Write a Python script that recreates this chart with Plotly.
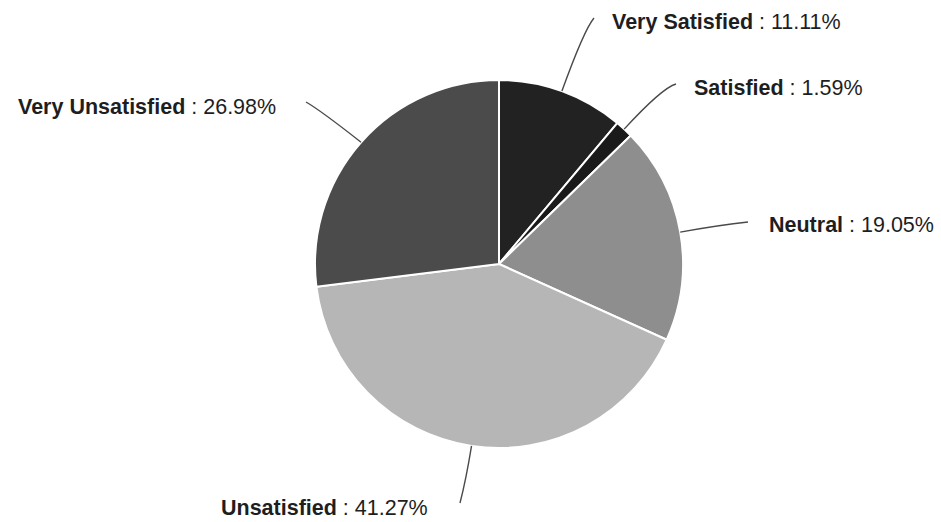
import math
import plotly.graph_objects as go

# Survey satisfaction breakdown
categories = ["Very Satisfied", "Satisfied", "Neutral", "Unsatisfied", "Very Unsatisfied"]
shares = [11.11, 1.59, 19.05, 41.27, 26.98]
colors = ["#222222", "#1a1a1a", "#8e8e8e", "#b6b6b6", "#4b4b4b"]

# Canvas and pie geometry (pixels)
W, H = 941, 522
CX, CY, R = 499, 264, 184

# Label anchor points (pixels) and where each leader line turns / ends
label_xy = [(610, 22), (692, 88), (767, 225), (430, 508), (278, 107)]
label_anchor = ["left", "left", "left", "right", "right"]
leader_end = [(594, 18), (676, 84), (748, 222), (460, 503), (306, 102)]
leader_bend = [(584, 30), (662, 88), (720, 225), (466, 480), (320, 110)]


def px(x, y):
    return x / W, 1 - y / H


fig = go.Figure(
    go.Pie(
        labels=categories,
        values=shares,
        sort=False,
        direction="clockwise",
        rotation=0,
        marker=dict(colors=colors, line=dict(color="#ffffff", width=2)),
        textinfo="none",
        hoverinfo="label+percent",
        showlegend=False,
        domain=dict(
            x=[(CX - R) / W, (CX + R) / W],
            y=[1 - (CY + R) / H, 1 - (CY - R) / H],
        ),
    )
)

total = sum(shares)
start = 0.0
shapes, annotations = [], []
for i, (name, v) in enumerate(zip(categories, shares)):
    mid = (start + v / 2) / total * 2 * math.pi
    start += v
    ex, ey = CX + R * math.sin(mid), CY - R * math.cos(mid)
    x0, y0 = px(ex, ey)
    bx, by = px(*leader_bend[i])
    x1, y1 = px(*leader_end[i])
    shapes.append(
        dict(
            type="path",
            xref="paper",
            yref="paper",
            path=f"M {x0} {y0} Q {bx} {by} {x1} {y1}",
            line=dict(color="#4a4a4a", width=1.4),
        )
    )
    lx, ly = px(*label_xy[i])
    annotations.append(
        dict(
            x=lx,
            y=ly,
            xref="paper",
            yref="paper",
            xanchor=label_anchor[i],
            yanchor="middle",
            showarrow=False,
            text=f"<b>{name}</b> : {v:.2f}%",
            font=dict(family="Liberation Sans, Arial, sans-serif", size=21.5, color="#1e1e1e"),
        )
    )

fig.update_layout(
    width=W,
    height=H,
    margin=dict(l=0, r=0, t=0, b=0),
    paper_bgcolor="#ffffff",
    plot_bgcolor="#ffffff",
    shapes=shapes,
    annotations=annotations,
)

fig.write_html("out.html")
